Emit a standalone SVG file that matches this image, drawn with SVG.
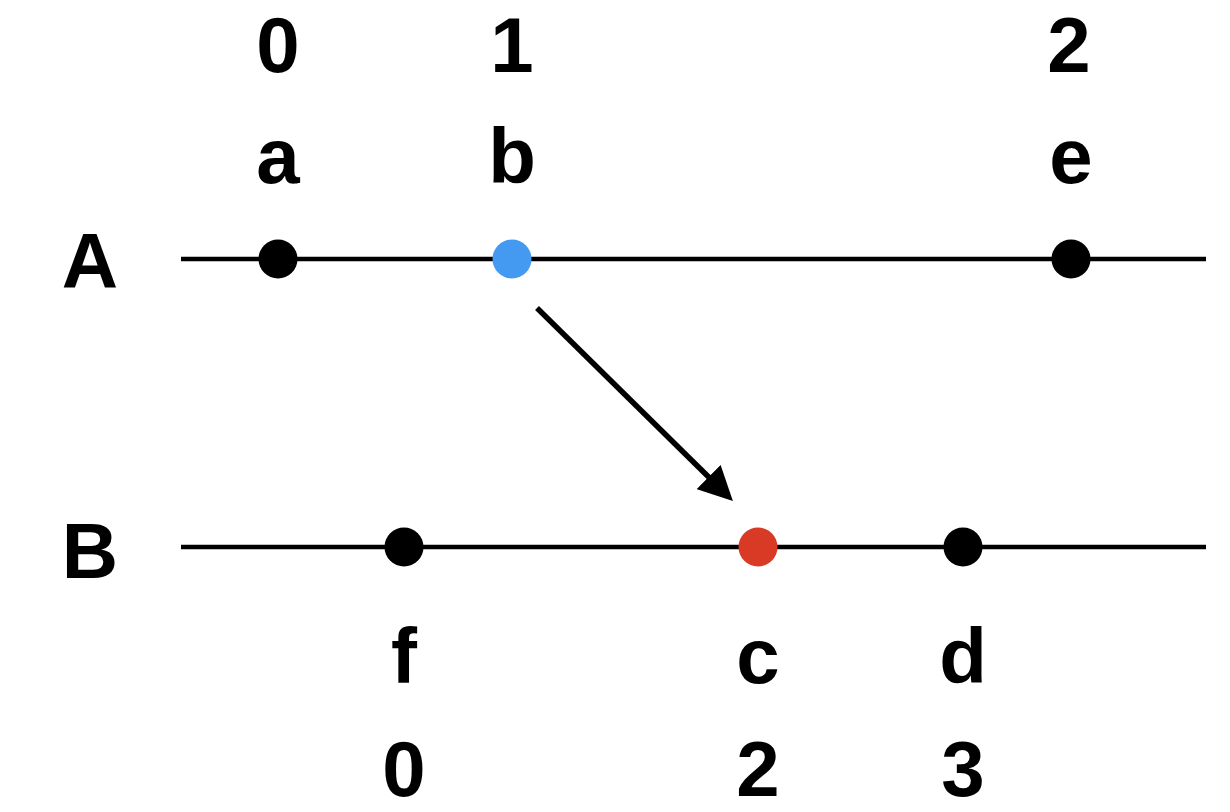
<svg xmlns="http://www.w3.org/2000/svg" width="1230" height="812" viewBox="0 0 1230 812">
  <style>
    .lbl { font-family: "Liberation Sans", Arial, sans-serif; font-weight: bold; font-size: 78px; fill: #000; text-anchor: middle; }
    .axis { stroke: #000; stroke-width: 4.5; fill: none; }
    .dot { fill: #000; }
  </style>
  <defs>
    <marker id="arrow" markerUnits="userSpaceOnUse" markerWidth="34" markerHeight="34" viewBox="0 0 32 32" refX="12" refY="16" orient="auto">
      <path d="M0,0 L32,16 L0,32 z" fill="#000"/>
    </marker>
  </defs>
  <rect width="1230" height="812" fill="#fff"/>

  <g id="process-A">
    <line class="axis" x1="181" y1="259" x2="1206" y2="259"/>
    <text class="lbl" x="90" y="288">A</text>
  </g>
  <g id="process-B">
    <line class="axis" x1="181" y1="547" x2="1206" y2="547"/>
    <text class="lbl" x="90" y="578">B</text>
  </g>

  <g id="node-a">
    <circle class="dot" cx="278" cy="259" r="19.5"/>
    <text class="lbl" x="278" y="183">a</text>
    <text class="lbl" x="278" y="72">0</text>
  </g>
  <g id="node-b">
    <circle cx="512" cy="259" r="19.5" fill="#4499F0"/>
    <text class="lbl" x="512" y="183">b</text>
    <text class="lbl" x="512" y="72">1</text>
  </g>
  <g id="node-e">
    <circle class="dot" cx="1071" cy="259" r="19.5"/>
    <text class="lbl" x="1071" y="183">e</text>
    <text class="lbl" x="1069" y="72">2</text>
  </g>
  <g id="node-f">
    <circle class="dot" cx="404" cy="547" r="19.5"/>
    <text class="lbl" x="404" y="683">f</text>
    <text class="lbl" x="404" y="796">0</text>
  </g>
  <g id="node-c">
    <circle cx="758" cy="547" r="19.5" fill="#D93A26"/>
    <text class="lbl" x="758" y="683">c</text>
    <text class="lbl" x="758" y="796">2</text>
  </g>
  <g id="node-d">
    <circle class="dot" cx="963" cy="547" r="19.5"/>
    <text class="lbl" x="963" y="683">d</text>
    <text class="lbl" x="963" y="796">3</text>
  </g>

  <g id="connectors">
    <line x1="537" y1="308" x2="717.75" y2="485.97" stroke="#000" stroke-width="5.5" marker-end="url(#arrow)"/>
  </g>
</svg>
